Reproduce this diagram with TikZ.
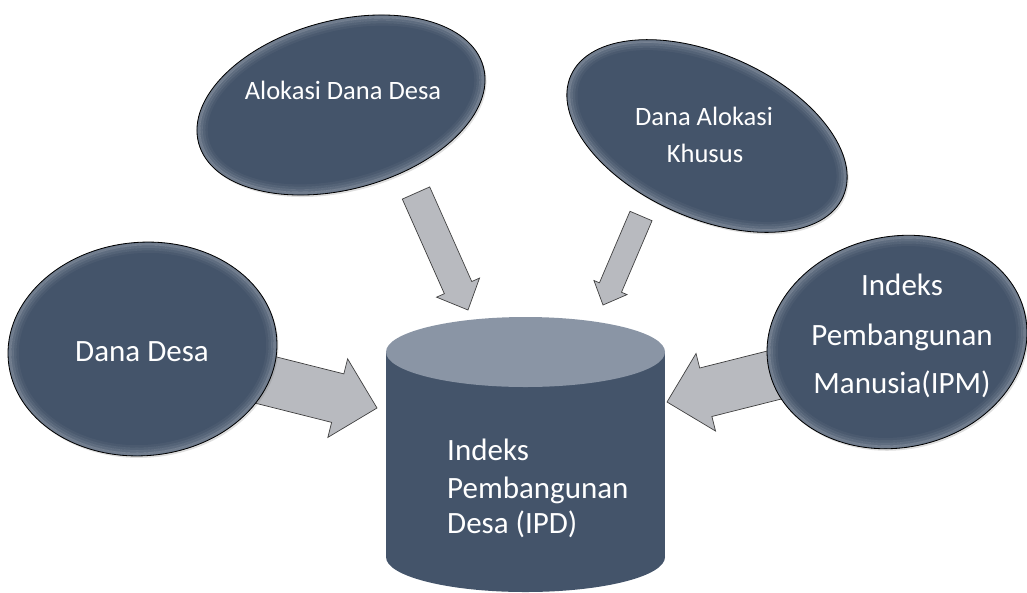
\documentclass[tikz,border=0pt]{standalone}
\usepackage{fontspec}
\setmainfont{Carlito}
\usetikzlibrary{calc,shapes.geometric,shadows}
\definecolor{ellc}{RGB}{68,84,106}
\definecolor{cyltop}{RGB}{138,149,165}
\definecolor{arrfill}{RGB}{184,186,191}
\definecolor{arrline}{RGB}{64,64,64}
% #1 name, #2 tail, #3 tip, #4 shaft half width, #5 head half width, #6 head length
\newcommand\myblockarrow[6]{%
  \coordinate (#1h) at ($(#3)!#6!(#2)$);
  \draw[arrowshape] ($(#2)!#4!90:(#3)$) -- ($(#1h)!#4!90:(#3)$) -- ($(#1h)!#5!90:(#3)$)
    -- (#3) -- ($(#1h)!#5!-90:(#3)$) -- ($(#1h)!#4!-90:(#3)$) -- ($(#2)!#4!-90:(#3)$) -- cycle;}
% #1 name, #2 centre, #3 x radius, #4 y radius, #5 rotation
\newcommand\mybubble[5]{%
  \node[bubble, minimum width=2*#3, minimum height=2*#4, rotate=#5] (#1) at (#2) {};
  \foreach \d/\o in {2/0.24,4.5/0.15,7/0.09,9.5/0.04}{%
    \draw[white, draw opacity=\o, line width=2.6pt, rotate around={#5:(#2)}]
      (#2) ellipse [x radius={(#3-\d)*1pt}, y radius={(#4-\d)*1pt}];}}
\begin{document}
\begin{tikzpicture}[x=1pt,y=-1pt,
  bubble/.style={ellipse, draw=black, line width=0.8pt, fill=ellc, inner sep=0pt,
    drop shadow={opacity=0.25, shadow xshift=1.5pt, shadow yshift=-2pt}},
  arrowshape/.style={fill=arrfill, draw=arrline, line width=0.7pt, line join=miter},
  lbl/.style={text=white, anchor=base, inner sep=0pt},
  lblw/.style={text=white, anchor=base west, inner sep=0pt},
  big/.style={font=\fontsize{31}{36}\selectfont},
  small/.style={font=\fontsize{26.5}{31}\selectfont},
]
\useasboundingbox (0,0) rectangle (1027,592);

% cylinder (IPD)
\fill[ellc] (386,352) rectangle (665,557);
\fill[ellc] (525.5,557) ellipse [x radius=139.5pt, y radius=35pt];
\fill[cyltop] (525.5,352) ellipse [x radius=139.5pt, y radius=35pt];
\node[coordinate] (ipd) at (525.5,455) {};

% arrow end points
\coordinate (a1t) at (416,193);
\coordinate (a1p) at (468,310);
\coordinate (a2t) at (641,216);
\coordinate (a2p) at (603,305);
\coordinate (a3t) at (222,369);
\coordinate (a3p) at (377,408);
\coordinate (a4t) at (822,363);
\coordinate (a4p) at (667,402);

\myblockarrow{a1}{a1t}{a1p}{15pt}{23.5pt}{24.5pt}
\myblockarrow{a2}{a2t}{a2p}{12pt}{18pt}{19pt}
\myblockarrow{a3}{a3t}{a3p}{25pt}{40.5pt}{40.5pt}
\myblockarrow{a4}{a4t}{a4p}{25pt}{40pt}{40pt}

% bubbles
\mybubble{e1}{341,105}{147.4}{84.4}{15}
\mybubble{e2}{707,136}{149}{82}{-24}
\mybubble{e3}{142.5,349}{134.7}{106.7}{5}
\mybubble{e4}{897,342}{131}{105.5}{12}

% labels
\node[lbl, small] (t1) at (343,99) {Alokasi Dana Desa};
\node[lbl, small] (t2a) at (704,125) {Dana Alokasi};
\node[lbl, small] (t2b) at (705,162) {Khusus};
\node[lbl, big] (t3) at (142,361) {Dana Desa};
\node[lbl, big] (t4a) at (902,295) {Indeks};
\node[lbl, big] (t4b) at (902,345) {Pembangunan};
\node[lbl, big] (t4c) at (902,393) {Manusia(IPM)};
\node[lblw, big] (t5a) at (447,460) {Indeks};
\node[lblw, big] (t5b) at (447,498) {Pembangunan};
\node[lblw, big] (t5c) at (447,533) {Desa (IPD)};
\end{tikzpicture}
\end{document}
